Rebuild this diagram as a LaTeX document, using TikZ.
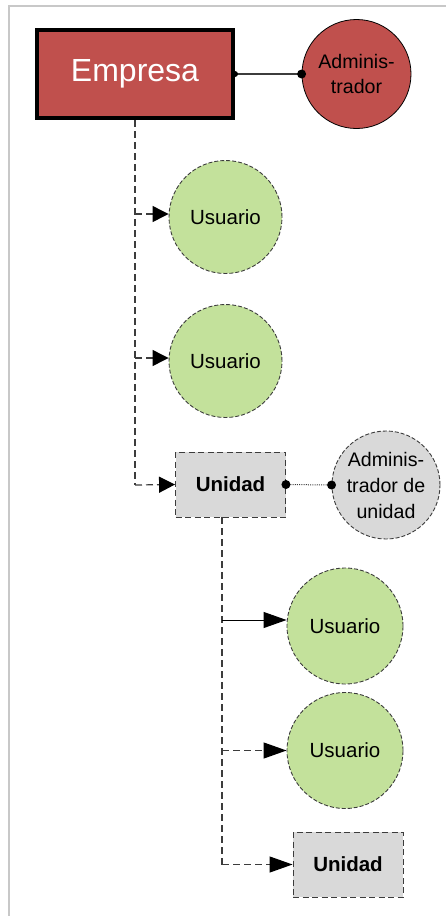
\documentclass[tikz,border=0pt]{standalone}
\usepackage{fontspec}
\setmainfont{Liberation Sans}
\usetikzlibrary{arrows.meta,calc}
\definecolor{redfill}{HTML}{C0504D}
\definecolor{greenfill}{HTML}{C3E19B}
\definecolor{grayfill}{HTML}{D9D9D9}
\definecolor{framegray}{HTML}{C8C8C8}
\definecolor{dashgray}{HTML}{3C3C3C}
\tikzset{
  usr/.style={circle, draw=dashgray, line width=0.9pt, dash pattern=on 4pt off 2pt, fill=greenfill, minimum size=113pt, inner sep=0pt, font=\fontsize{20.5}{24}\selectfont},
  unitbox/.style={rectangle, draw=dashgray, line width=0.9pt, dash pattern=on 6pt off 3.5pt, fill=grayfill, minimum width=110pt, minimum height=65pt, inner sep=0pt, font=\fontsize{20.5}{24}\selectfont\bfseries},
  conn/.style={draw=dashgray, line width=1.2pt, dash pattern=on 7pt off 4pt},
  arrA/.style={-{Triangle[length=16pt,width=16pt,black]}},
  arrB/.style={-{Triangle[length=23pt,width=16pt,black]}},
  dot/.style={circle, fill=black, inner sep=0pt},
}
\begin{document}
\begin{tikzpicture}[x=1pt,y=-1pt]
\useasboundingbox (0,0) rectangle (445,916);
\draw[framegray, line width=1.5pt] (9,930) -- (9,6) -- (460,6);
% Empresa
\node[rectangle, draw=black, line width=4pt, fill=redfill, minimum width=196pt, minimum height=88pt, text=white, font=\fontsize{32}{36}\selectfont] (emp) at (135,74) {Empresa};
\node[circle, draw=black, line width=0.8pt, fill=redfill, minimum size=109pt, inner sep=0pt, align=center, font=\fontsize{19.6}{25}\selectfont] (adm) at (356.5,74) {Adminis-\\trador};
\draw[line width=1.1pt, draw=dashgray] (emp.east) -- (adm.west);
\node[dot, minimum size=6pt] at (emp.east) {};
\node[dot, minimum size=9pt] at (adm.west) {};
% users
\node[usr] (u1) at (225.5,217) {Usuario};
\node[usr] (u2) at (225.5,361) {Usuario};
\node[unitbox] (un1) at (230.5,484.5) {Unidad};
\node[circle, draw=dashgray, line width=0.9pt, dash pattern=on 4pt off 2pt, fill=grayfill, minimum size=108pt, inner sep=0pt, align=center, font=\fontsize{19.6}{26}\selectfont] (admu) at (386,485) {Adminis-\\trador de\\unidad};
\draw[dashgray, line width=1pt, dash pattern=on 1pt off 1.2pt] (un1.east) -- (admu.west);
\node[dot, minimum size=9pt] at (un1.east) {};
\node[dot, minimum size=9pt] at (admu.west) {};
% Empresa tree
\coordinate (j0) at (135,485);
\coordinate (j1) at (135,214);
\coordinate (j2) at (135,358);
\draw[conn] (emp.south) -- (j0);
\draw[conn, arrA] (j0) -- (un1.west);
\draw[conn, arrA] (j1) -- (u1.west |- j1);
\draw[conn, arrA] (j2) -- (u2.west |- j2);
% Unidad tree
\node[usr, minimum size=116pt] (u3) at (345,626) {Usuario};
\node[usr, minimum size=116pt] (u4) at (345,750.5) {Usuario};
\node[unitbox] (un2) at (348,864.5) {Unidad};
\coordinate (k0) at (222,864.5);
\coordinate (k1) at (222,620);
\coordinate (k2) at (222,750.5);
\draw[conn] (un1.south -| k0) -- (k0);
\draw[line width=1pt, arrB] (k1) -- (u3.west |- k1);
\draw[conn, arrB] (k2) -- (u4.west);
\draw[conn, arrB] (k0) -- (un2.west);
\end{tikzpicture}
\end{document}
